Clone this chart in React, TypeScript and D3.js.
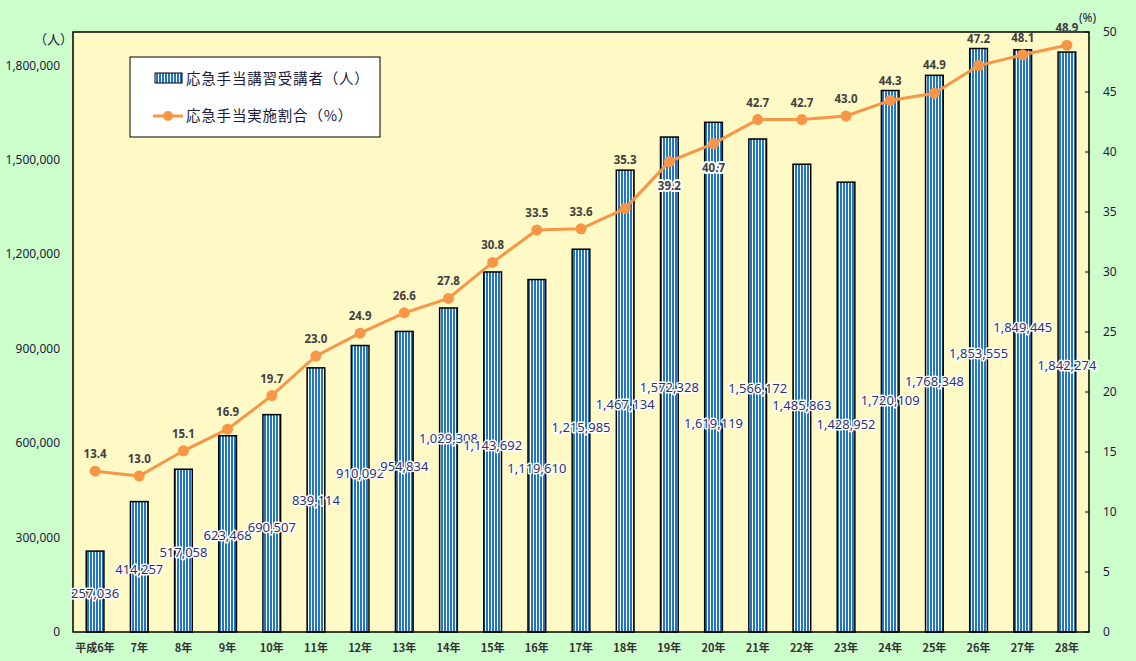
import { scaleBand, scaleLinear, line, format } from 'd3';

const W = 1136;
const H = 661;
const M = { left: 73, right: 1089, top: 32, bottom: 632 };

const categories = [
  '平成6年', '7年', '8年', '9年', '10年', '11年', '12年', '13年', '14年', '15年', '16年', '17年',
  '18年', '19年', '20年', '21年', '22年', '23年', '24年', '25年', '26年', '27年', '28年',
];
const trainees = [
  257036, 414257, 517058, 623468, 690507, 839114, 910092, 954834, 1029308, 1143692, 1119610,
  1215985, 1467134, 1572328, 1619119, 1566172, 1485863, 1428952, 1720109, 1768348, 1853555,
  1849445, 1842274,
];
const rates = [
  13.4, 13.0, 15.1, 16.9, 19.7, 23.0, 24.9, 26.6, 27.8, 30.8, 33.5, 33.6, 35.3, 39.2, 40.7, 42.7,
  42.7, 43.0, 44.3, 44.9, 47.2, 48.1, 48.9,
];
const leftTicks = [0, 300000, 600000, 900000, 1200000, 1500000, 1800000];
const rightTicks = [0, 5, 10, 15, 20, 25, 30, 35, 40, 45, 50];

// hand-placed shifts of the bar value labels (px from bar middle), as in the original
const labelShift = [2, 3, 2, 2, 4, 1, -15, -15, -32, -7, 13, -13, 3, 3, 46, 3, 7, 17, 39, 28, 13, -13, 23];

const FONT = '"Noto Sans", "Noto Sans CJK JP", sans-serif';
const JP = '"Noto Sans CJK JP", sans-serif';
const ORANGE = '#f79646';
const BLUE = '#2277c4';

export default function App() {
  const x = scaleBand<string>().domain(categories).range([M.left, M.right]).paddingInner(0.6).paddingOuter(0.3);
  const yL = scaleLinear().domain([0, 1906000]).range([M.bottom, M.top]);
  const yR = scaleLinear().domain([0, 50]).range([M.bottom, M.top]);
  const fmt = format(',');
  const cx = (i: number) => (x(categories[i]) as number) + x.bandwidth() / 2;

  const path = line<number>()
    .x((_, i) => cx(i))
    .y(d => yR(d))(rates);

  return (
    <svg
      width={W}
      height={H}
      style={{ position: 'absolute', left: 0, top: 0, display: 'block' }}
      fontFamily={FONT}
    >
      <defs>
        <pattern id="stripes" width={3} height={4} patternUnits="userSpaceOnUse">
          <rect width={3} height={4} fill="#ffffff" />
          <rect width={2} height={4} fill={BLUE} />
        </pattern>
      </defs>
      <rect width={W} height={H} fill="#ccffcc" />
      <rect
        x={M.left}
        y={M.top}
        width={M.right - M.left}
        height={M.bottom - M.top}
        fill="#fff9c6"
      />

      {/* left axis labels */}
      {leftTicks.map(t => (
        <text key={t} x={60} y={yL(t)} dy="0.35em" textAnchor="end" fontSize={12} fill="#1a1a3c">
          {fmt(t)}
        </text>
      ))}
      <text x={34} y={44} fontSize={13} fill="#1a1a3c" fontFamily={JP}>（人）</text>

      {/* right axis */}
      {rightTicks.map(t => (
        <g key={t}>
          <line x1={M.right - 4} x2={M.right} y1={yR(t)} y2={yR(t)} stroke="#000" />
          <text x={1103} y={yR(t)} dy="0.35em" fontSize={12} fill="#1a1a3c">
            {t}
          </text>
        </g>
      ))}
      <text x={1079} y={22} fontSize={12} fill="#1a1a3c">(%)</text>

      {/* bars */}
      {trainees.map((v, i) => (
        <rect
          key={i}
          x={x(categories[i])}
          y={yL(v)}
          width={x.bandwidth()}
          height={yL(0) - yL(v)}
          fill="url(#stripes)"
          stroke="#000"
          strokeWidth={1.5}
        />
      ))}

      {/* plot border */}
      <rect
        x={M.left}
        y={M.top}
        width={M.right - M.left}
        height={M.bottom - M.top}
        fill="none"
        stroke="#000"
        strokeWidth={1.5}
      />

      {/* line */}
      <path d={path ?? ''} fill="none" stroke={ORANGE} strokeWidth={3} />
      {rates.map((r, i) => (
        <circle key={i} cx={cx(i)} cy={yR(r)} r={5.5} fill={ORANGE} />
      ))}

      {/* bar value labels */}
      {trainees.map((v, i) => (
        <text
          key={i}
          x={cx(i)}
          y={(yL(v) + yL(0)) / 2 + labelShift[i]}
          dy="0.35em"
          textAnchor="middle"
          fontSize={13}
          fill="#333366"
          stroke="#fff"
          strokeWidth={3}
          strokeLinejoin="round"
          paintOrder="stroke"
        >
          {fmt(v)}
        </text>
      ))}

      {/* rate labels */}
      {rates.map((r, i) => {
        const below = i === 13 || i === 14;
        const yc = below ? yR(r) + 24 : Math.min(yR(r) - 17, yL(trainees[i]) - 10);
        return (
          <text
            key={i}
            x={cx(i)}
            y={yc}
            dy="0.35em"
            textAnchor="middle"
            fontSize={11.5}
            fontWeight="bold"
            fill="#404040"
            stroke={below ? '#fff' : 'none'}
            strokeWidth={4}
            strokeLinejoin="round"
            paintOrder="stroke"
          >
            {r.toFixed(1)}
          </text>
        );
      })}

      {/* category labels */}
      {categories.map((c, i) => (
        <text key={c} x={cx(i)} y={648} dy="0.35em" textAnchor="middle" fontSize={11} fontWeight="bold" fill="#333" fontFamily={JP}>
          {c}
        </text>
      ))}

      {/* legend */}
      <g>
        <rect x={130} y={57} width={250} height={80} fill="#fff" stroke="#000" strokeWidth={1} />
        <rect x={155} y={73} width={27} height={10} fill="url(#stripes)" stroke="#000" strokeWidth={1} />
        <text x={186} y={79} dy="0.35em" fontSize={14.5} letterSpacing={0.8} fill="#1a1a3c" fontFamily={JP}>
          応急手当講習受講者（人）
        </text>
        <line x1={153} x2={183} y1={116} y2={116} stroke={ORANGE} strokeWidth={3} />
        <circle cx={168} cy={116} r={5} fill={ORANGE} />
        <text x={186} y={116} dy="0.35em" fontSize={14.5} letterSpacing={0.8} fill="#1a1a3c" fontFamily={JP}>
          応急手当実施割合（%）
        </text>
      </g>
    </svg>
  );
}
